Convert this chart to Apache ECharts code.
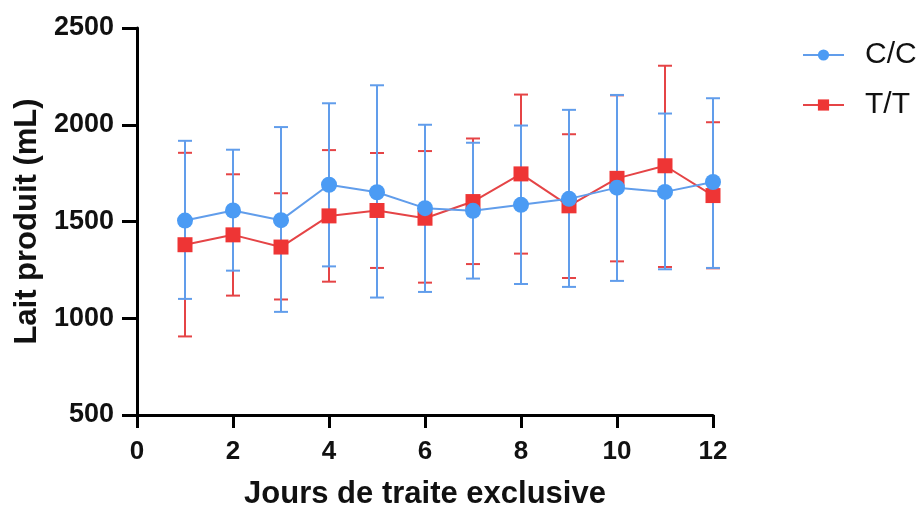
<!DOCTYPE html>
<html>
<head>
<meta charset="utf-8">
<script src="https://cdn.jsdelivr.net/npm/echarts@6/dist/echarts.min.js"></script>
<style>html,body{margin:0;padding:0;background:#fff}#c{width:924px;height:511px}</style>
</head>
<body>
<div id="c"></div>
<script>
const days = [1,2,3,4,5,6,7,8,9,10,11,12];
const ccMean  = [1505,1557,1507,1690,1651,1569,1555,1586,1617,1675,1653,1704];
const ccUpper = [1917,1871,1988,2111,2204,2000,1907,1996,2077,2154,2058,2137];
const ccLower = [1100,1246,1033,1268,1107,1136,1205,1177,1162,1193,1253,1260];
const ttMean  = [1380,1431,1368,1529,1557,1517,1603,1746,1581,1723,1788,1634];
const ttUpper = [1855,1744,1646,1869,1854,1864,1929,2156,1951,2152,2305,2013];
const ttLower = [906,1117,1097,1189,1260,1184,1280,1334,1208,1294,1265,1258];
const xTicks = [0,2,4,6,8,10,12];
const yTicks = [500,1000,1500,2000,2500];

const blueSym = '#4B9BF4', blueLine = '#619DEB';
const redSym = '#EE3535', redLine = '#E54446';
const FONT = 'Liberation Sans, Arial, sans-serif';

function errSeries(name, lower, upper, color) {
  return {
    type: 'custom', name: name + '_err', silent: true, z: 1,
    data: days.map((d, i) => [d, lower[i], upper[i]]),
    renderItem: function (params, api) {
      const x = api.value(0);
      const lo = api.coord([x, api.value(1)]);
      const hi = api.coord([x, api.value(2)]);
      const w = 7;
      const st = { stroke: color, lineWidth: 2 };
      return { type: 'group', children: [
        { type: 'line', shape: { x1: lo[0], y1: lo[1], x2: hi[0], y2: hi[1] }, style: st },
        { type: 'line', shape: { x1: lo[0]-w, y1: lo[1], x2: lo[0]+w, y2: lo[1] }, style: st },
        { type: 'line', shape: { x1: hi[0]-w, y1: hi[1], x2: hi[0]+w, y2: hi[1] }, style: st }
      ]};
    }
  };
}

const chart = echarts.init(document.getElementById('c'));
chart.setOption({
  animation: false,
  grid: { left: 137, right: 211, top: 28, bottom: 96, containLabel: false, outerBoundsMode: 'none' },
  legend: {
    orient: 'vertical', left: 797, top: 35,
    itemWidth: 41, itemHeight: 14, itemGap: 20,
    data: ['C/C', 'T/T'],
    textStyle: { fontFamily: FONT, fontSize: 30, color: '#111', padding: [0,0,0,16] }
  },
  xAxis: {
    type: 'value', min: 0, max: 12, interval: 2,
    name: 'Jours de traite exclusive', nameLocation: 'middle', nameGap: 64,
    nameTextStyle: { fontFamily: FONT, fontSize: 31, fontWeight: 'bold', color: '#111' },
    axisLine: { lineStyle: { color: '#000', width: 3 } },
    axisTick: { show: true, length: 13, lineStyle: { color: '#000', width: 3 } },
    axisLabel: { margin: 24, fontFamily: FONT, fontSize: 26, fontWeight: 'bold', color: '#111',
      formatter: v => xTicks.includes(v) ? String(v) : '' },
    splitLine: { show: false }
  },
  yAxis: {
    type: 'value', min: 500, max: 2500, interval: 500,
    name: 'Lait produit (mL)', nameLocation: 'middle', nameGap: 92,
    nameTextStyle: { fontFamily: FONT, fontSize: 31, fontWeight: 'bold', color: '#111' },
    axisLine: { show: true, lineStyle: { color: '#000', width: 3 } },
    axisTick: { show: true, length: 15, lineStyle: { color: '#000', width: 3 } },
    axisLabel: { margin: 23, fontFamily: FONT, fontSize: 27, fontWeight: 'bold', color: '#111',
      formatter: v => yTicks.includes(v) ? String(v) : '' },
    splitLine: { show: false }
  },
  series: [
    errSeries('T/T', ttLower, ttUpper, redLine),
    errSeries('C/C', ccLower, ccUpper, blueLine),
    {
      name: 'T/T', type: 'line', z: 3,
      data: days.map((d, i) => [d, ttMean[i]]),
      symbol: 'rect', symbolSize: 15,
      itemStyle: { color: redSym },
      lineStyle: { color: redLine, width: 2 }
    },
    {
      name: 'C/C', type: 'line', z: 4,
      data: days.map((d, i) => [d, ccMean[i]]),
      symbol: 'circle', symbolSize: 16,
      itemStyle: { color: blueSym },
      lineStyle: { color: blueLine, width: 2 }
    }
  ]
});
</script>
</body>
</html>
